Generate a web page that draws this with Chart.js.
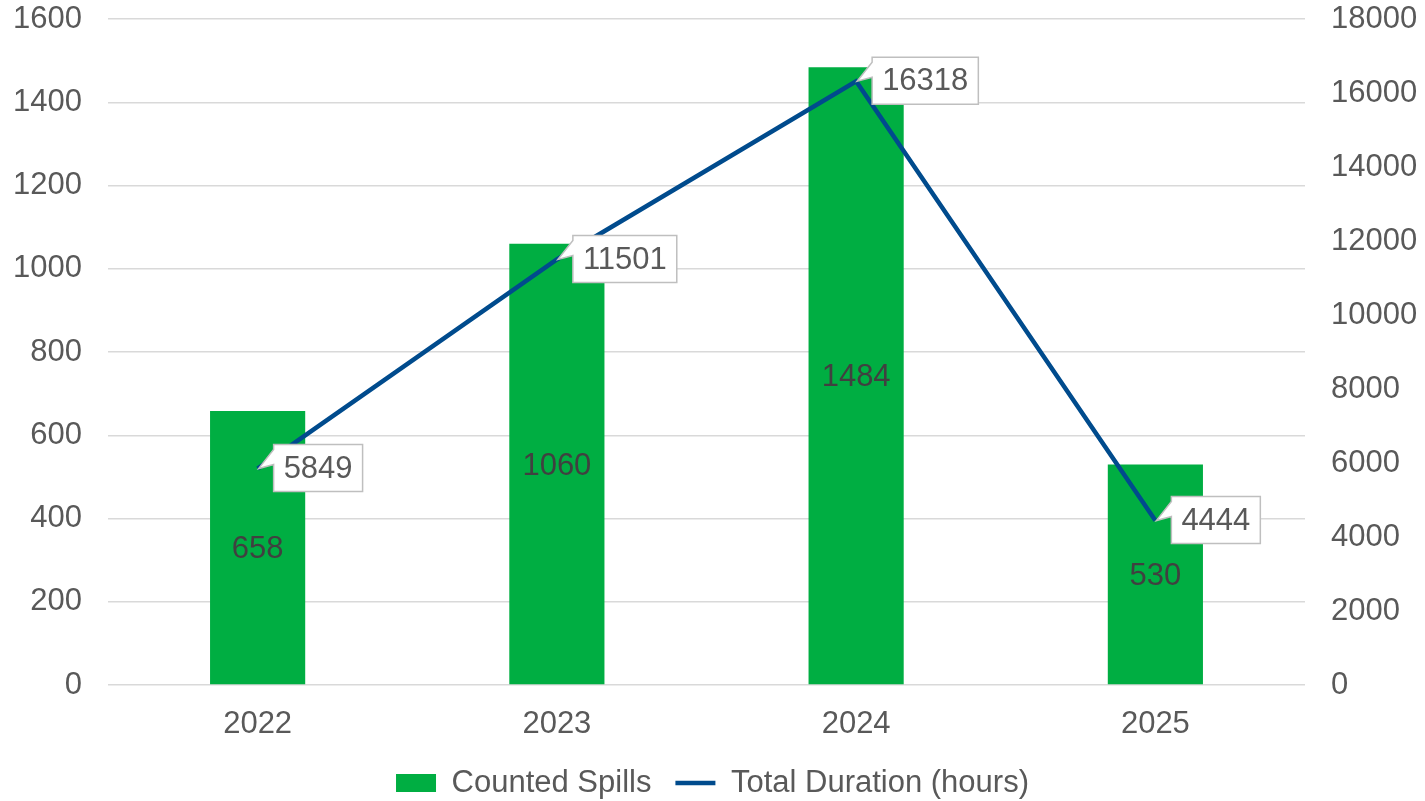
<!DOCTYPE html>
<html>
<head>
<meta charset="utf-8">
<script src="https://cdn.jsdelivr.net/npm/chart.js@4/dist/chart.umd.min.js"></script>
<style>
    html, body { margin: 0; padding: 0; background: #fff; }
    #wrap { width: 1425px; height: 801px; }
</style>
</head>
<body>
<div id="wrap"><canvas id="chart" width="1425" height="801"></canvas></div>
<script>
const years = ['2022', '2023', '2024', '2025'];
const spills = [658, 1060, 1484, 530];
const hours = [5849, 11501, 16318, 4444];

const green = '#00ae42';
const blue = '#004b8d';
const gridColor = '#d9d9d9';
const textColor = '#595959';
const fontFamily = '"Liberation Sans", Arial, sans-serif';

Chart.defaults.font.family = fontFamily;
Chart.defaults.font.size = 31;
Chart.defaults.color = textColor;

// value labels: centred in bars, callout boxes for the line
const labelsPlugin = {
    id: 'valueLabels',
    afterDatasetsDraw(chart) {
        const ctx = chart.ctx;
        ctx.save();
        ctx.font = `31px ${fontFamily}`;
        ctx.textBaseline = 'middle';

        const bars = chart.getDatasetMeta(0);
        ctx.fillStyle = '#404040';
        ctx.textAlign = 'center';
        bars.data.forEach((bar, i) => {
            ctx.fillText(String(spills[i]), bar.x, (bar.y + bar.base) / 2 + 2);
        });

        const line = chart.getDatasetMeta(1);
        line.data.forEach((pt, i) => {
            const text = String(hours[i]);
            const w = ctx.measureText(text).width + 20;
            const h = 47;
            const left = pt.x + 16;
            const top = pt.y - 24;
            ctx.beginPath();
            ctx.moveTo(left, top);
            ctx.lineTo(left + w, top);
            ctx.lineTo(left + w, top + h);
            ctx.lineTo(left, top + h);
            ctx.lineTo(left, top + 20);
            ctx.lineTo(pt.x + 1, pt.y);
            ctx.lineTo(left, top + 5);
            ctx.closePath();
            ctx.fillStyle = '#fff';
            ctx.fill();
            ctx.strokeStyle = '#bfbfbf';
            ctx.lineWidth = 1.5;
            ctx.stroke();
            ctx.fillStyle = textColor;
            ctx.textAlign = 'left';
            ctx.fillText(text, left + 10, top + h / 2 + 1);
        });
        ctx.restore();
    },
};

const fitY = width => s => {
    s.width = width;
    s.paddingTop = 0;
    s.paddingBottom = 0;
};

new Chart(document.getElementById('chart'), {
    data: {
        labels: years,
        datasets: [
            {
                type: 'bar',
                label: 'Counted Spills',
                data: spills,
                yAxisID: 'y',
                backgroundColor: green,
                categoryPercentage: 1,
                barPercentage: 0.318,
                order: 2,
                pointStyle: 'rect',
            },
            {
                type: 'line',
                label: 'Total Duration (hours)',
                data: hours,
                yAxisID: 'y2',
                borderColor: blue,
                backgroundColor: blue,
                borderWidth: 4.5,
                pointRadius: 0,
                tension: 0,
                order: 1,
                pointStyle: 'line',
            },
        ],
    },
    options: {
        responsive: false,
        animation: false,
        layout: { padding: { top: 19, left: 0, right: 0, bottom: -7.5 } },
        plugins: {
            tooltip: { enabled: false },
            legend: {
                position: 'bottom',
                labels: {
                    usePointStyle: true,
                    pointStyleWidth: 40,
                    boxHeight: 18,
                    padding: 24,
                    color: textColor,
                    font: { size: 31 },
                    sort: (a, b) => a.datasetIndex - b.datasetIndex,
                },
            },
        },
        scales: {
            x: {
                grid: { display: false },
                border: { display: false },
                ticks: { padding: 13, color: textColor },
                afterFit: s => { s.height = 58.5; },
            },
            y: {
                position: 'left',
                min: 0,
                max: 1600,
                ticks: { stepSize: 200, padding: 26, color: textColor, callback: v => String(v) },
                grid: { color: gridColor, lineWidth: 1.5, drawTicks: false },
                border: { display: false },
                afterFit: fitY(108),
            },
            y2: {
                position: 'right',
                min: 0,
                max: 18000,
                ticks: { stepSize: 2000, padding: 26, color: textColor, callback: v => String(v) },
                grid: { display: false, drawTicks: false },
                border: { display: false },
                afterFit: fitY(120),
            },
        },
    },
    plugins: [labelsPlugin],
});
</script>
</body>
</html>
